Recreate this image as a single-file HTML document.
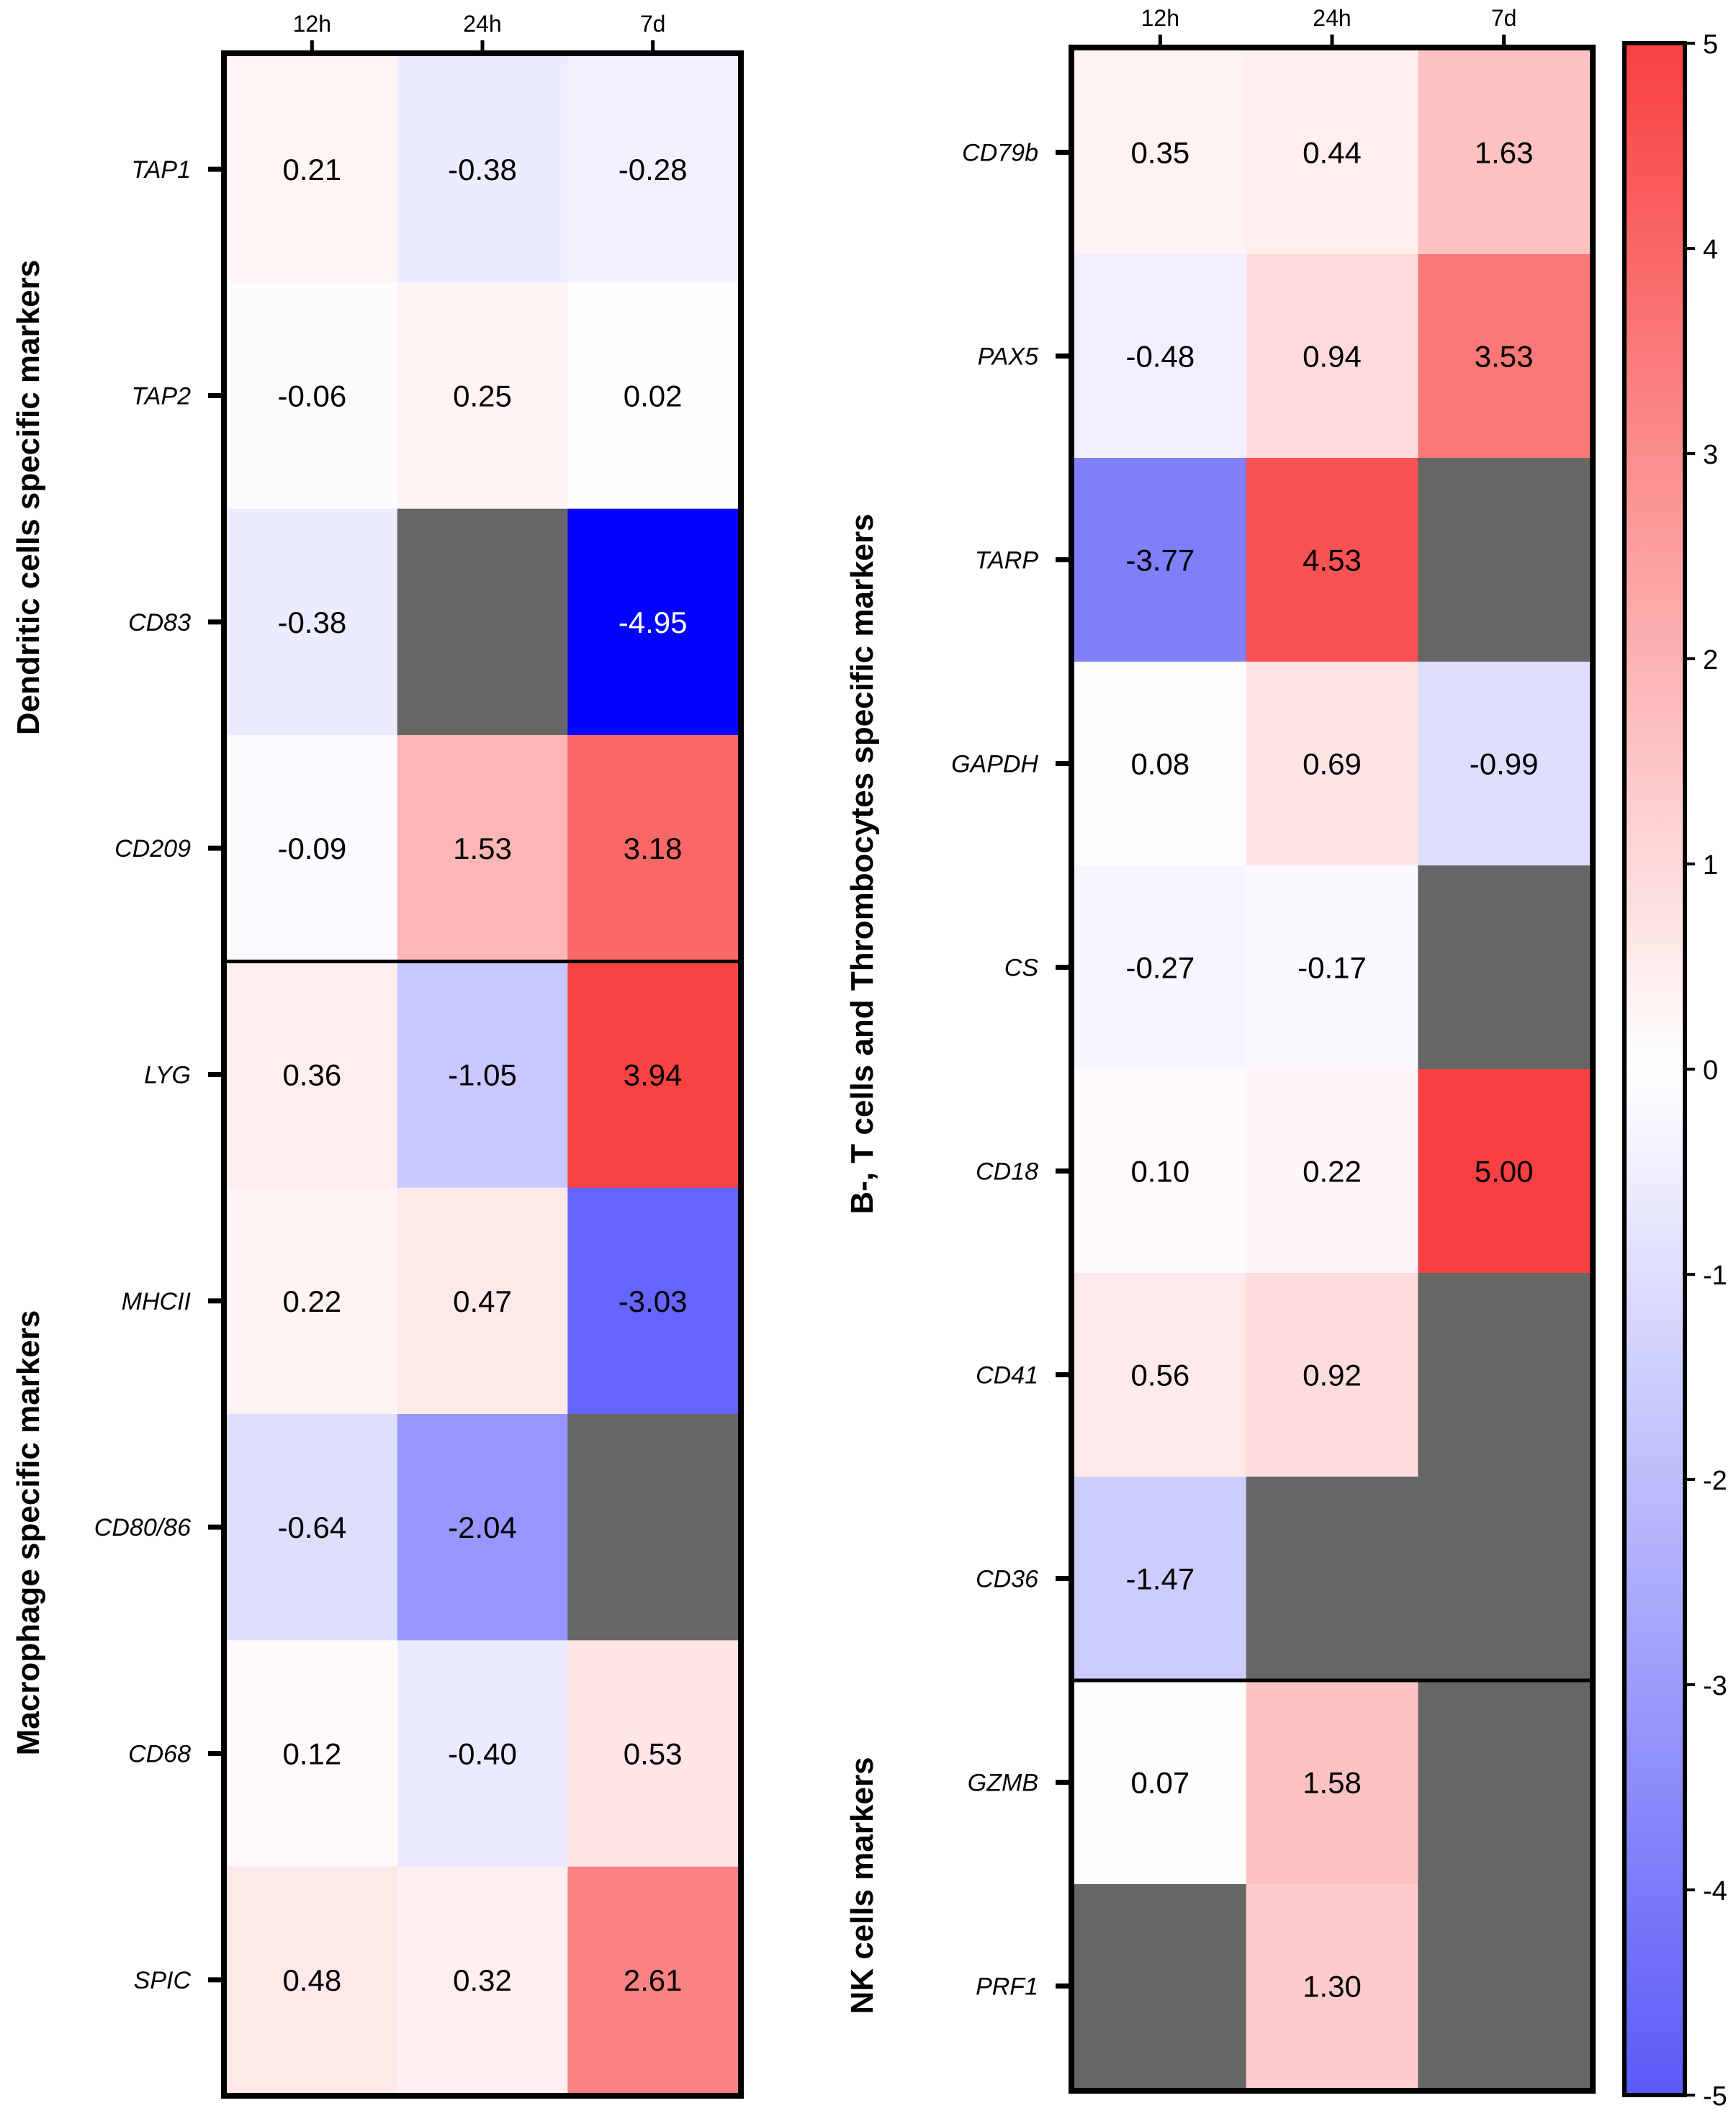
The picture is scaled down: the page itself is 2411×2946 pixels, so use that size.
<!DOCTYPE html>
<html><head><meta charset="utf-8"><style>
html,body{margin:0;padding:0;background:#fff}
svg{display:block}
text{font-family:"Liberation Sans",Arial,sans-serif}
</style></head><body>
<svg id="chart" width="2411" height="2946" viewBox="0 0 2411 2946" xmlns="http://www.w3.org/2000/svg">
<defs>
<linearGradient id="cbar" x1="0" y1="0" x2="0" y2="1">
<stop offset="0" stop-color="#f84040"/><stop offset="0.5" stop-color="#ffffff"/><stop offset="1" stop-color="#5a5af8"/>
</linearGradient>
</defs>
<g id="left"></g><g id="right"></g>
<g id="cb">
<rect x="2256" y="60" width="84" height="2850" fill="url(#cbar)" stroke="#000" stroke-width="6"/>
</g>
<text transform="translate(54,691) rotate(-90)" text-anchor="middle" font-size="44" font-weight="bold">Dendritic cells specific markers</text>
<text transform="translate(54,2129) rotate(-90)" text-anchor="middle" font-size="44" font-weight="bold">Macrophage specific markers</text>
<text transform="translate(1212,1200) rotate(-90)" text-anchor="middle" font-size="44" font-weight="bold">B-, T cells and Thrombocytes specific markers</text>
<text transform="translate(1212,2619) rotate(-90)" text-anchor="middle" font-size="44" font-weight="bold">NK cells markers</text>
</svg>
<script>
const columns = ["12h","24h","7d"];
const leftGenes = ["TAP1","TAP2","CD83","CD209","LYG","MHCII","CD80/86","CD68","SPIC"];
const left12h = [0.21,-0.06,-0.38,-0.09,0.36,0.22,-0.64,0.12,0.48];
const left24h = [-0.38,0.25,null,1.53,-1.05,0.47,-2.04,-0.40,0.32];
const left7d = [-0.28,0.02,-4.95,3.18,3.94,-3.03,null,0.53,2.61];
const rightGenes = ["CD79b","PAX5","TARP","GAPDH","CS","CD18","CD41","CD36","GZMB","PRF1"];
const right12h = [0.35,-0.48,-3.77,0.08,-0.27,0.10,0.56,-1.47,0.07,null];
const right24h = [0.44,0.94,4.53,0.69,-0.17,0.22,0.92,null,1.58,1.30];
const right7d = [1.63,3.53,null,-0.99,null,5.00,null,null,null,null];
const scaleTicks = [5,4,3,2,1,0,-1,-2,-3,-4,-5];

const NS="http://www.w3.org/2000/svg";
function mk(tag,attrs,parent){const e=document.createElementNS(NS,tag);for(const k in attrs)e.setAttribute(k,attrs[k]);parent.appendChild(e);return e;}
function makeColor(redMax, blueEnd){
  return function(v){
    if(v===null) return "#666666";
    if(v>=0){const t=Math.min(v/redMax,1);return `rgb(${Math.round(255-7*t)},${Math.round(255-191*t)},${Math.round(255-191*t)})`;}
    const t=Math.min(-v/5,1);
    return `rgb(${Math.round(255-(255-blueEnd[0])*t)},${Math.round(255-(255-blueEnd[1])*t)},${Math.round(255-(255-blueEnd[2])*t)})`;
  };
}
function fmt(v){return v.toFixed(2);}
function heat(g,genes,cols,x0,x1,y0,y1,divAfter,color){
  const cw=(x1-x0)/3, rh=(y1-y0)/genes.length;
  const xs=i=>x0+i*cw, ys=j=>y0+j*rh;
  cols.forEach((arr,i)=>{arr.forEach((v,j)=>{
    const r=mk('rect',{x:xs(i),y:ys(j),width:cw+0.5,height:rh+0.5,fill:color(v)},g);
    
    
    if(v!==null){
      const t=mk('text',{x:xs(i)+cw/2,y:ys(j)+rh/2+15,'text-anchor':'middle','font-size':42,fill:v<-4?'#fff':'#000'},g);
      t.textContent=fmt(v);
      
      
    }
  });});
  mk('line',{x1:x0,x2:x1,y1:ys(divAfter),y2:ys(divAfter),stroke:'#000','stroke-width':5},g);
  const b=mk('rect',{x:x0-4,y:y0-4,width:x1-x0+8,height:y1-y0+8,fill:'none',stroke:'#000','stroke-width':8},g);
  
  
  genes.forEach((name,j)=>{
    const yc=ys(j)+rh/2;
    mk('line',{x1:x0-26,x2:x0-4,y1:yc,y2:yc,stroke:'#000','stroke-width':7},g);
    const t=mk('text',{x:x0-50,y:yc+12,'text-anchor':'end','font-size':34,'font-style':'italic'},g);
    t.textContent=name;
    
    
  });
  columns.forEach((c,i)=>{
    const xc=xs(i)+cw/2;
    mk('line',{x1:xc,x2:xc,y1:y0-22,y2:y0-4,stroke:'#000','stroke-width':5},g);
    const t=mk('text',{x:xc,y:y0-34,'text-anchor':'middle','font-size':32},g);
    t.textContent=c;
    
    
  });
}
const L=document.getElementById('left');


heat(L,leftGenes,[left12h,left24h,left7d],315,1025,78,2907,4,makeColor(4,[0,0,255]));
const R=document.getElementById('right');


heat(R,rightGenes,[right12h,right24h,right7d],1492,2208,70,2900,8,makeColor(5,[85,85,248]));
const CB=document.getElementById('cb');
const cy=v=>60+(5-v)/10*2850;
scaleTicks.forEach(v=>{
  mk('line',{x1:2340,x2:2354,y1:cy(v),y2:cy(v),stroke:'#000','stroke-width':4},CB);
  const t=mk('text',{x:2365,y:cy(v)+14,'font-size':38},CB);
  t.textContent=String(v);
  
  
});
</script>
</body></html>
